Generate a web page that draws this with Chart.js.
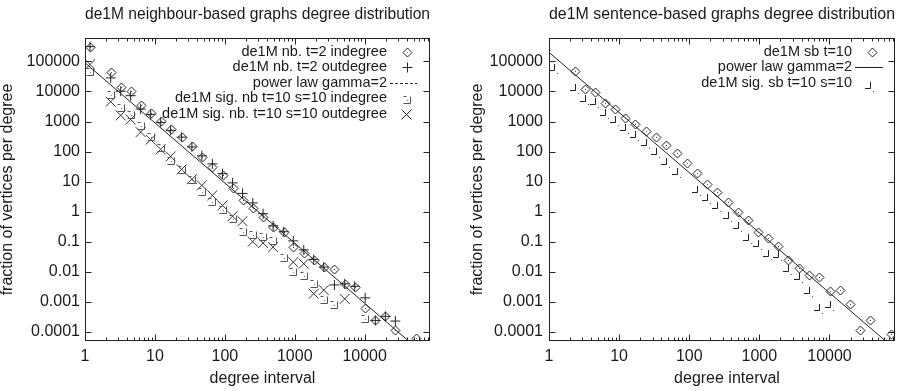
<!DOCTYPE html>
<html>
<head>
<meta charset="utf-8">
<script src="https://cdn.jsdelivr.net/npm/chart.js@4.4.1/dist/chart.umd.min.js"></script>
<style>
  body { margin: 0; background: #fff; }
  #wrap { position: relative; width: 901px; height: 391px; }
  canvas { position: absolute; top: 0; }
  #left { left: 0; }
  #right { left: 450px; }
</style>
</head>
<body>
<div id="wrap">
  <canvas id="left" width="450" height="391"></canvas>
  <canvas id="right" width="451" height="391"></canvas>
</div>
<script>
// degree interval bins (same bins in both panels)
const degreeBins = [1.18, 1.65, 2.33, 3.24, 4.5, 6.25, 8.7, 12.1, 16.8, 24.1, 33.8, 46.9, 66.3, 92.7,
  129, 179, 251, 352, 490, 697, 952, 1345, 1868, 2597, 3690, 5180, 7200, 10170, 14220, 19770,
  27470, 38150, 53500, 75400];

// left panel: neighbour-based graphs
const nbIndegree = [3.0e5, null, 4.3e4, 1.42e4, 1.06e4, 3440, 1940, 1010, 547, 308, 149, 64, 31.4, 16.1,
  6.19, 2.51, 1.34, 0.646, 0.30, 0.21, 0.0685, 0.0436, 0.0255, 0.0144, 0.0127, 0.00403, 0.0032,
  0.00064, 0.000242, 0.000334, 0.000119, null, 0.000061, null];
const nbOutdegree = [3.1e5, null, 2.82e4, 1.02e4, 7230, 2590, 1730, 935, 507, 302, 143, 72, 38.9, 18.4,
  9.08, 4.06, 1.96, 0.86, 0.337, 0.216, 0.107, 0.0536, 0.0259, 0.0144, 0.00367, 0.0040, 0.0033,
  0.00136, 0.000242, 0.00033, 0.00023, null, null, null];
const sigNbIndegree = [4.6e4, null, 7800, 2730, 1600, 689, 297, 132, 48, 23.6, 11, 4.39, 2.12, 1.1,
  0.555, 0.205, 0.169, 0.14, 0.11, 0.028, 0.0096, 0.007, 0.0038, 0.00112, 0.00076, null, null,
  0.00028, null, null, null, null, null, null];
const sigNbOutdegree = [7.9e4, null, 4570, 1600, 1170, 444, 250, 118, 69, 25.5, 12, 7.5, 3.5, 1.62,
  0.71, 0.483, 0.101, 0.09, 0.066, null, 0.021, 0.0186, 0.00187, 0.00247, null, 0.00126, null,
  null, null, null, null, null, null, null];

// right panel: sentence-based graphs
const sbDegree = [null, null, 46400, 12400, 9530, 4100, 2530, 1300, 846, 469, 303, 161, 91.8, 41.4,
  19.5, 8.1, 4.49, 2.09, 0.97, 0.546, 0.216, 0.134, 0.0711, 0.024, 0.0137, 0.00778, 0.00689,
  0.00232, 0.00241, 0.000824, 0.000119, 0.000255, null, 0.0000873];
const sigSbDegree = [50100, null, 10800, 4670, 3920, 1600, 958, 507, 303, 161, 85, 39.5, 18.4, null,
  4.49, 2.47, 1.34, 0.622, 0.289, 0.115, 0.0728, 0.0338, 0.0318, 0.0107, 0.0056, 0.00191,
  0.000521, 0.000655, null, null, null, null, null, null];

// power law gamma=2 end points
const powerLawX = [1, 86000];
const powerLawLeftY = [9e4, 1.22e-5];
const powerLawRightY = [2e5, 2.7e-5];

const xTickValues = [1, 10, 100, 1000, 10000];
const xTickLabels = ['1', '10', '100', '1000', '10000'];
const yTickValues = [1e-4, 1e-3, 1e-2, 1e-1, 1, 10, 100, 1000, 10000, 100000];
const yTickLabels = ['0.0001', '0.001', '0.01', '0.1', '1', '10', '100', '1000', '10000', '100000'];

const leftLegendLabels = ['de1M nb. t=2 indegree', 'de1M nb. t=2 outdegree', 'power law gamma=2',
  'de1M sig. nb t=10 s=10 indegree', 'de1M sig. nb. t=10 s=10 outdegree'];
const rightLegendLabels = ['de1M sb t=10', 'power law gamma=2', 'de1M sig. sb t=10 s=10'];

const ink = '#1a1a1a';
const fontFamily = '"Liberation Sans", Arial, Helvetica, sans-serif';
Chart.defaults.font.family = fontFamily;
Chart.defaults.font.size = 16;
Chart.defaults.color = ink;

function points(values) {
  return degreeBins.map((x, i) => ({ x: x, y: values[i] })).filter(p => p.y !== null);
}
function linePoints(xs, ys) {
  return xs.map((x, i) => ({ x: x, y: ys[i] }));
}

// marker glyphs (gnuplot point types with a centre dot)
function makeMarker(size, draw) {
  const c = document.createElement('canvas');
  c.width = size; c.height = size;
  const g = c.getContext('2d');
  draw(g, size / 2);
  return c;
}
const diamondDot = makeMarker(12, (g, m) => {
  g.strokeStyle = '#222'; g.lineWidth = 1;
  g.beginPath();
  g.moveTo(m - 4, m + 0.5); g.lineTo(m + 0.5, m - 4); g.lineTo(m + 5, m + 0.5); g.lineTo(m + 0.5, m + 5);
  g.closePath(); g.stroke();
  g.fillStyle = '#444'; g.fillRect(m, m, 1, 1);
});
const sigBoxLeft = makeMarker(12, (g, m) => {
  g.strokeStyle = '#555'; g.lineWidth = 1;
  g.beginPath();
  g.moveTo(m - 3.5, m - 3.5); g.lineTo(m - 0.5, m - 3.5);
  g.moveTo(m + 3.5, m - 3.5); g.lineTo(m + 3.5, m + 3.5); g.lineTo(m - 3.5, m + 3.5);
  g.stroke();
  g.fillStyle = '#777'; g.fillRect(m, m, 1, 1);
});
const sigCornerRight = makeMarker(16, (g, m) => {
  g.strokeStyle = '#222'; g.lineWidth = 1;
  g.beginPath();
  g.moveTo(m + 0.5, m - 6); g.lineTo(m + 0.5, m + 0.5); g.lineTo(m - 5, m + 0.5);
  g.stroke();
  g.fillStyle = '#555'; g.fillRect(m + 3, m + 3, 1, 1);
});

function drawCross(ctx, x, y, r, rotated) {
  ctx.beginPath();
  if (rotated) {
    const d = r * Math.SQRT1_2;
    ctx.moveTo(x - d, y - d); ctx.lineTo(x + d, y + d);
    ctx.moveTo(x - d, y + d); ctx.lineTo(x + d, y - d);
  } else {
    ctx.moveTo(x - r, y); ctx.lineTo(x + r, y);
    ctx.moveTo(x, y - r); ctx.lineTo(x, y + r);
  }
  ctx.stroke();
}

// keep the marker bitmaps crisp
const crispMarkers = {
  id: 'crispMarkers',
  beforeDatasetsDraw(chart) { chart.ctx.imageSmoothingEnabled = false; }
};

// gnuplot-style frame with inward ticks on all four sides
const frameTicks = {
  id: 'frameTicks',
  afterDatasetsDraw(chart) {
    const { ctx, chartArea: a, scales: { x, y } } = chart;
    const L = Math.round(a.left) + 0.5, R = Math.round(a.right) - 0.5;
    const T = Math.round(a.top) + 0.5, B = Math.round(a.bottom) - 0.5;
    ctx.save();
    ctx.strokeStyle = '#222';
    ctx.lineWidth = 1;
    ctx.strokeRect(L, T, R - L, B - T);
    ctx.beginPath();
    for (let d = 1; d <= x.max; d *= 10) {
      for (let k = 1; k <= 9; k++) {
        const v = k * d;
        if (v > x.max) break;
        const px = Math.round(x.getPixelForValue(v)) + 0.5;
        const len = k === 1 ? 6 : 3;
        ctx.moveTo(px, B); ctx.lineTo(px, B - len);
        ctx.moveTo(px, T); ctx.lineTo(px, T + len);
      }
    }
    yTickValues.forEach(v => {
      const py = Math.round(y.getPixelForValue(v)) + 0.5;
      ctx.moveTo(L, py); ctx.lineTo(L + 6, py);
      ctx.moveTo(R, py); ctx.lineTo(R - 6, py);
    });
    ctx.stroke();
    // x axis title
    ctx.fillStyle = ink;
    ctx.font = '16px ' + fontFamily;
    ctx.textAlign = 'center';
    ctx.textBaseline = 'middle';
    ctx.fillText('degree interval', (a.left + a.right) / 2 + 5, 379);
    ctx.restore();
  }
};

// legend in gnuplot style: text right aligned, sample at the right
const keyLegend = {
  id: 'keyLegend',
  afterDraw(chart, args, opts) {
    const ctx = chart.ctx;
    ctx.save();
    ctx.imageSmoothingEnabled = false;
    ctx.font = '14.5px ' + fontFamily;
    ctx.fillStyle = ink;
    ctx.textAlign = 'right';
    ctx.textBaseline = 'middle';
    ctx.strokeStyle = '#222';
    ctx.lineWidth = 1;
    opts.entries.forEach((e, i) => {
      const yy = opts.top + i * opts.step;
      ctx.fillText(e.label, opts.textRight, yy);
      const sx = opts.sampleX;
      if (e.kind === 'image') {
        ctx.drawImage(e.image, Math.round(sx - e.image.width / 2 + (e.dx || 0)),
          Math.round(yy - e.image.height / 2 + (e.dy || 0)));
      } else if (e.kind === 'cross') {
        drawCross(ctx, Math.round(sx) + 0.5, Math.round(yy) + 0.5, 5, false);
      } else if (e.kind === 'crossRot') {
        drawCross(ctx, sx, yy + 1, 7, true);
      } else if (e.kind === 'line') {
        ctx.save();
        ctx.setLineDash(e.dash || []);
        ctx.beginPath();
        ctx.moveTo(opts.lineFrom, Math.round(yy) + 0.5);
        ctx.lineTo(opts.lineTo, Math.round(yy) + 0.5);
        ctx.stroke();
        ctx.restore();
      }
    });
    ctx.restore();
  }
};

function panelOptions(cfg) {
  return {
    responsive: false,
    animation: false,
    events: [],
    devicePixelRatio: 1,
    layout: { padding: { left: 0, right: cfg.padRight, top: 0, bottom: 0 } },
    plugins: {
      legend: { display: false },
      tooltip: { enabled: false },
      title: {
        display: true, text: cfg.title, fullSize: false, color: ink,
        font: { size: 16, weight: 'normal', lineHeight: 1 },
        padding: { top: 7, bottom: 15 }
      },
      keyLegend: cfg.legend
    },
    scales: {
      x: {
        type: 'logarithmic', min: 1, max: 86000,
        afterFit: s => { s.height = 50; },
        afterBuildTicks: s => { s.ticks = xTickValues.map(v => ({ value: v })); },
        ticks: { autoSkip: false, maxRotation: 0, padding: 6, color: ink, callback: (v, i) => xTickLabels[i] },
        grid: { display: false, drawTicks: false },
        border: { display: false }
      },
      y: {
        type: 'logarithmic', min: 5e-5, max: 6e5,
        afterFit: s => { s.width = cfg.yWidth; },
        afterBuildTicks: s => { s.ticks = yTickValues.map(v => ({ value: v })); },
        ticks: { autoSkip: false, padding: cfg.yTickPad, color: ink, callback: (v, i) => yTickLabels[i] },
        grid: { display: false, drawTicks: false },
        border: { display: false },
        title: {
          display: true, text: 'fraction of vertices per degree', color: ink,
          font: { size: 16, lineHeight: 1 }, padding: { top: cfg.yTitlePad, bottom: 0 }
        }
      }
    }
  };
}

new Chart(document.getElementById('left'), {
  type: 'scatter',
  data: {
    datasets: [
      { label: leftLegendLabels[0], data: points(nbIndegree), pointStyle: diamondDot, pointRadius: 4 },
      { label: leftLegendLabels[1], data: points(nbOutdegree), pointStyle: 'cross', pointRadius: 5,
        borderColor: '#222', borderWidth: 1 },
      { label: leftLegendLabels[2], data: linePoints(powerLawX, powerLawLeftY), showLine: true,
        pointRadius: 0, borderColor: '#222', borderWidth: 1 },
      { label: leftLegendLabels[3], data: points(sigNbIndegree), pointStyle: sigBoxLeft, pointRadius: 4 },
      { label: leftLegendLabels[4], data: points(sigNbOutdegree), pointStyle: 'crossRot', pointRadius: 7,
        borderColor: '#333', borderWidth: 1 }
    ]
  },
  options: panelOptions({
    title: 'de1M neighbour-based graphs degree distribution',
    padRight: 20, yWidth: 85, yTickPad: 5, yTitlePad: 0,
    legend: {
      top: 51.5, step: 15.5, textRight: 387, sampleX: 406.5, lineFrom: 390, lineTo: 417,
      entries: [
        { label: leftLegendLabels[0], kind: 'image', image: diamondDot },
        { label: leftLegendLabels[1], kind: 'cross' },
        { label: leftLegendLabels[2], kind: 'line', dash: [3, 2] },
        { label: leftLegendLabels[3], kind: 'image', image: sigBoxLeft, dy: 2 },
        { label: leftLegendLabels[4], kind: 'crossRot' }
      ]
    }
  }),
  plugins: [crispMarkers, frameTicks, keyLegend]
});

new Chart(document.getElementById('right'), {
  type: 'scatter',
  data: {
    datasets: [
      { label: rightLegendLabels[0], data: points(sbDegree), pointStyle: diamondDot, pointRadius: 4 },
      { label: rightLegendLabels[1], data: linePoints(powerLawX, powerLawRightY), showLine: true,
        pointRadius: 0, borderColor: '#222', borderWidth: 1 },
      { label: rightLegendLabels[2], data: points(sigSbDegree), pointStyle: sigCornerRight, pointRadius: 4 }
    ]
  },
  options: panelOptions({
    title: 'de1M sentence-based graphs degree distribution',
    padRight: 6, yWidth: 99, yTickPad: 6, yTitlePad: 20,
    legend: {
      top: 51.5, step: 15.5, textRight: 402, sampleX: 421.5, lineFrom: 405, lineTo: 433,
      entries: [
        { label: rightLegendLabels[0], kind: 'image', image: diamondDot },
        { label: rightLegendLabels[1], kind: 'line' },
        { label: rightLegendLabels[2], kind: 'image', image: sigCornerRight, dx: -2, dy: 5 }
      ]
    }
  }),
  plugins: [crispMarkers, frameTicks, keyLegend]
});
</script>
</body>
</html>
